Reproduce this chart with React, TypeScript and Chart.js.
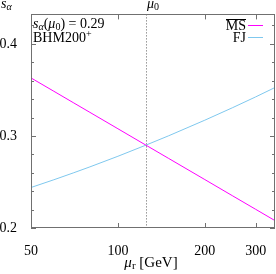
import React, { useEffect, useRef } from 'react';
import { Chart, registerables } from 'chart.js';
Chart.register(...registerables);

const scaleValues = [50, 60, 70, 80, 100, 125, 150, 200, 250, 300, 350];
const msbarValues = [0.363, 0.3485, 0.3362, 0.3256, 0.3078, 0.29, 0.2755, 0.2526, 0.2348, 0.2203, 0.208];
const fjValues = [0.244, 0.2524, 0.2598, 0.2664, 0.2779, 0.29, 0.3002, 0.3171, 0.3308, 0.3424, 0.3526];
const xTickValues = [50, 100, 200, 300];
const yMajorTicks = [0.2, 0.3, 0.4];
const yMinorTicks = [0.22, 0.24, 0.26, 0.28, 0.32, 0.34, 0.36, 0.38, 0.42];
const mu0 = 125;
const xMin = 50;
const xMax = 350;
const yMin = 0.2;
const yMax = 0.432;

const SERIF = '"Liberation Serif", "DejaVu Serif", serif';
const MAGENTA = '#ff00ff';
const SKY = '#7fc8ee';
const FRAME = '#707070';

type Seg = { t: string; f: string; dy?: number };
function drawSegs(ctx: CanvasRenderingContext2D, segs: Seg[], x: number, y: number, align: 'left' | 'center' | 'right' = 'left') {
  let total = 0;
  for (const s of segs) { ctx.font = s.f; total += ctx.measureText(s.t).width; }
  let cx = align === 'left' ? x : align === 'center' ? x - total / 2 : x - total;
  const start = cx;
  ctx.textAlign = 'left';
  ctx.textBaseline = 'alphabetic';
  for (const s of segs) {
    ctx.font = s.f;
    ctx.fillText(s.t, cx, y + (s.dy || 0));
    cx += ctx.measureText(s.t).width;
  }
  return { start, end: cx };
}

const decor = {
  id: 'decor',
  beforeDatasetsDraw(chart: any) {
    const { ctx, chartArea: a, scales } = chart;
    const xs = scales.x;
    const px = xs.getPixelForValue(mu0);
    ctx.save();
    ctx.strokeStyle = '#606060';
    ctx.lineWidth = 1;
    ctx.setLineDash([1, 2]);
    ctx.beginPath();
    ctx.moveTo(Math.round(px) + 0.5, a.top);
    ctx.lineTo(Math.round(px) + 0.5, a.bottom);
    ctx.stroke();
    ctx.restore();
  },
  afterDraw(chart: any) {
    const { ctx, chartArea: a, scales } = chart;
    const xs = scales.x;
    const ys = scales.y;
    ctx.save();
    // frame
    ctx.strokeStyle = FRAME;
    ctx.lineWidth = 1;
    ctx.strokeRect(Math.round(a.left) + 0.5, Math.round(a.top) + 0.5, Math.round(a.right - a.left) - 1, Math.round(a.bottom - a.top) - 1);
    // ticks
    ctx.beginPath();
    for (const v of xTickValues) {
      const p = Math.round(xs.getPixelForValue(v)) + 0.5;
      ctx.moveTo(p, a.bottom); ctx.lineTo(p, a.bottom - 5);
      ctx.moveTo(p, a.top); ctx.lineTo(p, a.top + 5);
    }
    for (const v of yMajorTicks) {
      const p = Math.round(ys.getPixelForValue(v)) + 0.5;
      ctx.moveTo(a.left, p); ctx.lineTo(a.left + 5, p);
      ctx.moveTo(a.right, p); ctx.lineTo(a.right - 5, p);
    }
    for (const v of yMinorTicks) {
      const p = Math.round(ys.getPixelForValue(v)) + 0.5;
      ctx.moveTo(a.left, p); ctx.lineTo(a.left + 3, p);
      ctx.moveTo(a.right, p); ctx.lineTo(a.right - 3, p);
    }
    ctx.stroke();

    ctx.fillStyle = '#000';
    // y title
    drawSegs(ctx, [
      { t: 's', f: `italic 14px ${SERIF}` },
      { t: 'α', f: `italic 10px ${SERIF}`, dy: 2 },
    ], 1, 8);
    // mu0 label
    const px = xs.getPixelForValue(mu0);
    drawSegs(ctx, [
      { t: 'μ', f: `italic 14px ${SERIF}` },
      { t: '0', f: `10px ${SERIF}`, dy: 2 },
    ], px + 1, 8);
    // annotation
    drawSegs(ctx, [
      { t: 's', f: `italic 14px ${SERIF}` },
      { t: 'α', f: `italic 10px ${SERIF}`, dy: 2 },
      { t: '(', f: `14px ${SERIF}` },
      { t: 'μ', f: `italic 14px ${SERIF}` },
      { t: '0', f: `10px ${SERIF}`, dy: 2 },
      { t: ') = 0.29', f: `14px ${SERIF}` },
    ], a.left + 2, 28);
    drawSegs(ctx, [
      { t: 'BHM200', f: `14px ${SERIF}` },
      { t: '+', f: `10px ${SERIF}`, dy: -5 },
    ], a.left + 2, 42);
    // x title
    drawSegs(ctx, [
      { t: 'μ', f: `italic 15px ${SERIF}` },
      { t: 'r', f: `11px ${SERIF}`, dy: 2 },
      { t: ' [GeV]', f: `15px ${SERIF}` },
    ], 151, 267, 'center');
    // legend samples
    ctx.fillStyle = MAGENTA;
    ctx.fillRect(248, 25, 15, 1);
    ctx.fillStyle = SKY;
    ctx.fillRect(248, 37, 15, 1);
    // legend text
    ctx.fillStyle = '#000';
    const lx = 246;
    const r1 = drawSegs(ctx, [{ t: 'MS', f: `14px ${SERIF}` }], lx, 30, 'right');
    ctx.fillRect(Math.round(r1.start), 19, Math.round(r1.end - r1.start), 1);
    drawSegs(ctx, [{ t: 'FJ', f: `14px ${SERIF}` }], lx, 42, 'right');
    ctx.restore();
  },
};

export default function App() {
  const ref = useRef<HTMLCanvasElement>(null);
  useEffect(() => {
    if (!ref.current) return;
    const chart = new Chart(ref.current, {
      type: 'line',
      data: {
        datasets: [
          {
            label: 'MS',
            data: scaleValues.map((x, i) => ({ x, y: msbarValues[i] })),
            borderColor: MAGENTA,
            borderWidth: 1,
            pointRadius: 0,
            cubicInterpolationMode: 'monotone',
          },
          {
            label: 'FJ',
            data: scaleValues.map((x, i) => ({ x, y: fjValues[i] })),
            borderColor: SKY,
            borderWidth: 1,
            pointRadius: 0,
            cubicInterpolationMode: 'monotone',
          },
        ],
      },
      options: {
        animation: false,
        responsive: false,
        layout: { padding: { left: 0, right: 1, top: 14, bottom: 0 } },
        plugins: { legend: { display: false }, tooltip: { enabled: false } },
        scales: {
          x: {
            type: 'logarithmic',
            min: xMin,
            max: xMax,
            grid: { display: false },
            border: { display: false },
            afterBuildTicks: (s: any) => { s.ticks = xTickValues.map((v) => ({ value: v })); },
            afterFit: (s: any) => { s.height = 46; },
            ticks: {
              autoSkip: false,
              maxRotation: 0,
              padding: 7,
              color: '#000',
              font: { family: SERIF, size: 14 },
              callback: (v: any) => String(v),
            },
          },
          y: {
            type: 'linear',
            min: yMin,
            max: yMax,
            grid: { display: false },
            border: { display: false },
            afterBuildTicks: (s: any) => { s.ticks = yMajorTicks.map((v) => ({ value: v })); },
            afterFit: (s: any) => { s.width = 31; },
            ticks: {
              padding: 6,
              color: '#000',
              font: { family: SERIF, size: 14 },
              callback: (v: any) => Number(v).toFixed(1),
            },
          },
        },
      } as any,
      plugins: [decor],
    });
    return () => chart.destroy();
  }, []);
  return (
    <div style={{ position: 'fixed', left: 0, top: 0, width: 276, height: 274, background: '#fff' }}>
      <canvas ref={ref} width={276} height={274} />
    </div>
  );
}
